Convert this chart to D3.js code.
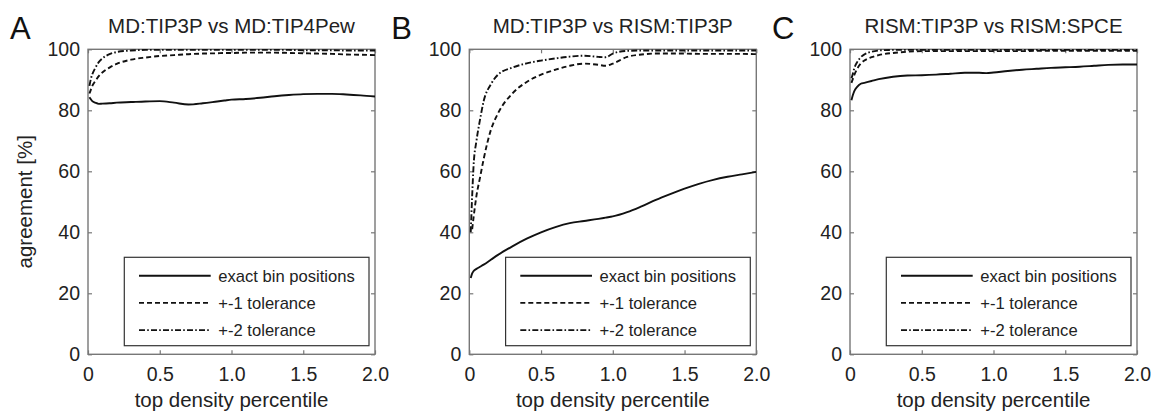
<!DOCTYPE html>
<html><head><meta charset="utf-8">
<script src="https://cdn.jsdelivr.net/npm/d3@7"></script>
<style>
html,body{margin:0;padding:0;background:#fff;}
svg{display:block;font-family:"Liberation Sans",Arial,sans-serif;}
</style></head>
<body><svg id="chart" width="1154" height="416"></svg>
<script>
const xGrid = [0.01,0.02,0.03,0.05,0.075,0.1,0.15,0.2,0.3,0.4,0.5,0.6,0.7,0.8,0.9,0.95,1.0,1.1,1.2,1.3,1.4,1.5,1.6,1.7,1.8,1.9,2.0];

const panelLetters = ["A","B","C"];
const panelTitles = ["MD:TIP3P vs MD:TIP4Pew","MD:TIP3P vs RISM:TIP3P","RISM:TIP3P vs RISM:SPCE"];
const seriesNames = ["exact bin positions","+-1 tolerance","+-2 tolerance"];

const aExact   = [84.3,83.6,83.0,82.5,82.1,82.2,82.3,82.5,82.7,82.9,83.0,82.5,81.9,82.3,82.9,83.2,83.5,83.7,84.1,84.6,85.0,85.3,85.4,85.4,85.2,84.9,84.5];
const aTol1    = [85.5,86.8,88.0,89.5,91.2,92.4,94.0,95.2,96.6,97.3,97.8,98.1,98.4,98.6,98.7,98.8,98.8,98.9,98.9,98.9,98.8,98.7,98.6,98.5,98.3,98.2,98.1];
const aTol2    = [88.0,90.3,91.8,93.8,95.8,97.0,98.4,99.1,99.6,99.8,99.8,99.8,99.8,99.8,99.8,99.8,99.8,99.8,99.8,99.8,99.8,99.7,99.7,99.7,99.6,99.6,99.6];

const bExact   = [25.0,26.5,27.3,28.0,28.7,29.4,31.0,32.6,35.4,37.9,40.0,41.7,43.0,43.7,44.4,44.8,45.2,46.6,48.5,50.6,52.5,54.3,55.9,57.2,58.2,59.0,59.8];
const bTol1    = [null,41.0,45.0,52.0,58.0,64.0,73.5,79.0,85.5,89.3,91.7,93.3,94.6,95.3,94.9,94.6,95.3,97.5,98.3,98.6,98.6,98.6,98.5,98.5,98.5,98.5,98.4];
const bTol2    = [40.0,52.0,62.0,70.0,77.0,83.0,88.5,91.7,94.0,95.4,96.3,97.0,97.6,97.9,97.5,97.4,98.6,99.5,99.6,99.6,99.6,99.6,99.6,99.6,99.6,99.6,99.6];

const cExact   = [83.3,85.0,86.3,87.7,88.7,89.0,89.6,90.2,91.0,91.4,91.5,91.7,92.0,92.3,92.3,92.2,92.4,92.9,93.3,93.6,93.9,94.1,94.3,94.6,94.9,95.0,95.0];
const cTol1    = [89.0,90.3,91.6,93.6,95.3,96.3,97.4,98.1,98.8,99.2,99.4,99.4,99.4,99.4,99.4,99.4,99.4,99.4,99.4,99.5,99.5,99.5,99.5,99.5,99.5,99.5,99.5];
const cTol2    = [90.5,92.0,93.8,95.8,97.4,98.3,99.2,99.6,99.8,99.8,99.8,99.8,99.8,99.8,99.8,99.8,99.8,99.8,99.8,99.8,99.8,99.8,99.8,99.8,99.8,99.8,99.8];

const xTicks = [0,0.5,1.0,1.5,2.0];
const xTickLabels = ["0","0.5","1.0","1.5","2.0"];
const yTicks = [0,20,40,60,80,100];
const xLabel = "top density percentile";
const yLabel = "agreement [%]";

const panelSeries = [[aExact,aTol1,aTol2],[bExact,bTol1,bTol2],[cExact,cTol1,cTol2]];

const svg = d3.select("#chart");
const lefts = [88, 469.3, 850];
const W = 287, plotTop = 49.3, plotBottom = 354.3;
const dashes = [null, "5,3", "6,2.2,1.6,2.2"];
const axisColor = "#777";
const textColor = "#222";

panelSeries.forEach((series, p) => {
  const L = lefts[p];
  const x = d3.scaleLinear().domain([0,2]).range([L, L+W]);
  const y = d3.scaleLinear().domain([0,100]).range([plotBottom, plotTop]);
  const g = svg.append("g");

  g.append("rect").attr("x", L).attr("y", plotTop).attr("width", W).attr("height", plotBottom-plotTop)
    .attr("fill","none").attr("stroke", axisColor).attr("stroke-width", 1.4);

  const ab = g.append("g").attr("transform", `translate(0,${plotBottom})`)
    .call(d3.axisBottom(x).tickValues(xTicks).tickFormat((d,i)=>xTickLabels[i]).tickSizeInner(-4).tickSizeOuter(0).tickPadding(10));
  const at = g.append("g").attr("transform", `translate(0,${plotTop})`)
    .call(d3.axisTop(x).tickValues(xTicks).tickFormat("").tickSizeInner(-4).tickSizeOuter(0));
  const al = g.append("g").attr("transform", `translate(${L},0)`)
    .call(d3.axisLeft(y).tickValues(yTicks).tickSizeInner(-4).tickSizeOuter(0).tickPadding(8));
  const ar = g.append("g").attr("transform", `translate(${L+W},0)`)
    .call(d3.axisRight(y).tickValues(yTicks).tickFormat("").tickSizeInner(-4).tickSizeOuter(0));
  [ab,at,al,ar].forEach(a => {
    a.select(".domain").remove();
    a.selectAll(".tick line").attr("stroke", axisColor).attr("stroke-width", 1.2);
    a.selectAll(".tick text").attr("fill", textColor).attr("font-size", 19.5)
      .attr("font-family", '"Liberation Sans",Arial,sans-serif');
  });
  ab.selectAll(".tick text").attr("dy", "0.85em");

  const clipId = "clip"+p;
  svg.append("clipPath").attr("id", clipId).append("rect")
    .attr("x", L).attr("y", plotTop-2).attr("width", W).attr("height", plotBottom-plotTop+2);
  series.forEach((vals, s) => {
    const line = d3.line()
      .defined(d => d[1] !== null)
      .x(d => x(d[0])).y(d => y(d[1]))
      .curve(d3.curveMonotoneX);
    const pts = xGrid.map((xv,i) => [xv, vals[i]]);
    g.append("path").attr("d", line(pts)).attr("fill","none")
      .attr("stroke","#111").attr("stroke-width", 1.9)
      .attr("stroke-dasharray", dashes[s])
      .attr("clip-path", `url(#${clipId})`);
  });

  const lx = L + 36.3, ly = 257.3, lw = 244.7, lh = 88.4;
  g.append("rect").attr("x", lx).attr("y", ly).attr("width", lw).attr("height", lh)
    .attr("fill","#fff").attr("stroke","#333").attr("stroke-width",1.2);
  seriesNames.forEach((name, s) => {
    const ry = 275.7 + s*27.2;
    g.append("line").attr("x1", L+51).attr("x2", L+122.7).attr("y1", ry).attr("y2", ry)
      .attr("stroke","#111").attr("stroke-width",1.9).attr("stroke-dasharray", dashes[s]);
    g.append("text").attr("x", L+130.3).attr("y", ry).attr("dy","0.36em")
      .attr("font-size", 16.6).attr("fill", textColor).text(name);
  });

  g.append("text").attr("x", L + W/2).attr("y", 33.3).attr("text-anchor","middle")
    .attr("font-size", 20.5).attr("fill", textColor).text(panelTitles[p]);
  g.append("text").attr("x", L - 78).attr("y", 39.3)
    .attr("font-size", 31).attr("fill", "#111").text(panelLetters[p]);
  g.append("text").attr("x", L + W/2).attr("y", 407).attr("text-anchor","middle")
    .attr("font-size", 20.5).attr("fill", textColor).text(xLabel);
});

svg.append("text").attr("transform", `translate(32,${(plotTop+plotBottom)/2}) rotate(-90)`)
  .attr("text-anchor","middle").attr("font-size", 20.5).attr("fill", textColor).text(yLabel);
</script>
</body></html>
